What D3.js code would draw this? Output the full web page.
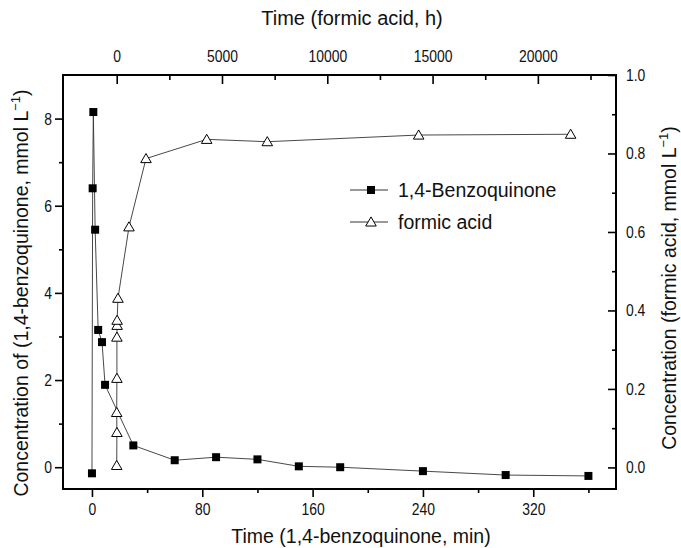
<!DOCTYPE html>
<html>
<head>
<meta charset="utf-8">
<script src="https://cdn.jsdelivr.net/npm/d3@7"></script>
<style>
  body { margin: 0; background: #fff; }
  svg { display: block; font-family: "Liberation Sans", Arial, sans-serif; }
</style>
</head>
<body>
<div id="chart"></div>
<script>
"use strict";

// 1,4-benzoquinone, bottom axis (min) / left axis
const bqTime = [0, 0.5, 1, 2.3, 4.5, 7.3, 9.5, 30, 60, 90, 120, 150, 180, 240, 300, 360];
const bqConc = [-0.14, 6.4, 8.15, 5.45, 3.15, 2.87, 1.89, 0.5, 0.16, 0.23, 0.18, 0.02, 0.0, -0.09, -0.18, -0.2];

// formic acid, top axis (h) / right axis
const faTime = [0, 10, 0, 10, 10, 20, 20, 60, 584, 1391, 4273, 7151, 14339, 21556];
const faConc = [0.005, 0.089, 0.14, 0.227, 0.332, 0.362, 0.375, 0.431, 0.613, 0.787, 0.836, 0.83, 0.847, 0.849];

const bottomTicks = [0, 80, 160, 240, 320];
const bottomMinor = [40, 120, 200, 280, 360];
const topTicks = [0, 5000, 10000, 15000, 20000];
const topMinor = [2500, 7500, 12500, 17500, 22500];
const leftTicks = [0, 2, 4, 6, 8];
const leftMinor = [1, 3, 5, 7];
const rightTicks = [0, 0.2, 0.4, 0.6, 0.8, 1.0];
const rightMinor = [0.1, 0.3, 0.5, 0.7, 0.9];

const legendItems = ["1,4-Benzoquinone", "formic acid"];

const width = 681;
const height = 548;
const plot = { left: 63, right: 616, top: 75, bottom: 489 };
const tickSize = 17;
const titleSize = 19.5;

const svg = d3.select("#chart").append("svg")
  .attr("width", width)
  .attr("height", height)
  .attr("viewBox", `0 0 ${width} ${height}`);

const xBottom = d3.scaleLinear().domain([-21, 380]).range([plot.left, plot.right]);
const xTop = d3.scaleLinear().domain([-2550, 23710]).range([plot.left, plot.right]);
const yLeft = d3.scaleLinear().domain([-0.5, 9]).range([plot.bottom, plot.top]);
const yRight = d3.scaleLinear().domain([-0.055, 1.0]).range([plot.bottom, plot.top]);

// tick numbers in the original are a condensed face: squeeze them a bit
function styleAxis(g) {
  g.select(".domain").remove();
  g.selectAll("line").attr("stroke", "#000").attr("stroke-width", 1.6);
  g.selectAll("text")
    .attr("fill", "#111")
    .attr("font-size", tickSize)
    .each(function () {
      const t = d3.select(this);
      const x = +t.attr("x") || 0;
      t.attr("x", x / 0.82).attr("transform", "scale(0.82,1)");
    });
}

// bottom axis (ticks outward)
svg.append("g")
  .attr("transform", `translate(0,${plot.bottom})`)
  .call(d3.axisBottom(xBottom).tickValues(bottomTicks).tickSize(8).tickPadding(6).tickFormat(d3.format("d")))
  .call(styleAxis);
svg.append("g")
  .attr("transform", `translate(0,${plot.bottom})`)
  .call(d3.axisBottom(xBottom).tickValues(bottomMinor).tickSize(4).tickFormat(""))
  .call(styleAxis);

// left axis (ticks outward)
svg.append("g")
  .attr("transform", `translate(${plot.left},0)`)
  .call(d3.axisLeft(yLeft).tickValues(leftTicks).tickSize(8).tickPadding(3).tickFormat(d3.format("d")))
  .call(styleAxis);
svg.append("g")
  .attr("transform", `translate(${plot.left},0)`)
  .call(d3.axisLeft(yLeft).tickValues(leftMinor).tickSize(4).tickFormat(""))
  .call(styleAxis);

// top axis (ticks inward)
svg.append("g")
  .attr("transform", `translate(0,${plot.top})`)
  .call(d3.axisTop(xTop).tickValues(topTicks).tickSizeInner(-9).tickSizeOuter(0).tickPadding(13).tickFormat(d3.format("d")))
  .call(styleAxis);
svg.append("g")
  .attr("transform", `translate(0,${plot.top})`)
  .call(d3.axisTop(xTop).tickValues(topMinor).tickSizeInner(-5).tickSizeOuter(0).tickFormat(""))
  .call(styleAxis);

// right axis (ticks inward)
svg.append("g")
  .attr("transform", `translate(${plot.right},0)`)
  .call(d3.axisRight(yRight).tickValues(rightTicks).tickSizeInner(-8).tickSizeOuter(0).tickPadding(10).tickFormat(d3.format(".1f")))
  .call(styleAxis);
svg.append("g")
  .attr("transform", `translate(${plot.right},0)`)
  .call(d3.axisRight(yRight).tickValues(rightMinor).tickSizeInner(-4).tickSizeOuter(0).tickFormat(""))
  .call(styleAxis);

// frame
svg.append("rect")
  .attr("x", plot.left)
  .attr("y", plot.top)
  .attr("width", plot.right - plot.left)
  .attr("height", plot.bottom - plot.top)
  .attr("fill", "none")
  .attr("stroke", "#000")
  .attr("stroke-width", 2);

// series
const bqData = bqTime.map((t, i) => ({ x: t, y: bqConc[i] }));
const faData = faTime.map((t, i) => ({ x: t, y: faConc[i] }));

const bqLine = d3.line().x((d) => xBottom(d.x)).y((d) => yLeft(d.y));
const faLine = d3.line().x((d) => xTop(d.x)).y((d) => yRight(d.y));

svg.append("path")
  .datum(bqData)
  .attr("d", bqLine)
  .attr("fill", "none")
  .attr("stroke", "#333")
  .attr("stroke-width", 0.9);

svg.append("path")
  .datum(faData)
  .attr("d", faLine)
  .attr("fill", "none")
  .attr("stroke", "#333")
  .attr("stroke-width", 0.9);

const square = d3.symbol().type(d3.symbolSquare).size(64);
const triangle = d3.symbol().type(d3.symbolTriangle).size(48);

svg.selectAll("path.bq")
  .data(bqData)
  .join("path")
  .attr("class", "bq")
  .attr("transform", (d) => `translate(${xBottom(d.x)},${yLeft(d.y)})`)
  .attr("d", square)
  .attr("fill", "#000");

svg.selectAll("path.fa")
  .data(faData)
  .join("path")
  .attr("class", "fa")
  .attr("transform", (d) => `translate(${xTop(d.x)},${yRight(d.y) + 1})`)
  .attr("d", triangle)
  .attr("fill", "#fff")
  .attr("stroke", "#000")
  .attr("stroke-width", 1);

// legend
const legend = svg.append("g").attr("transform", "translate(350,190)");
legendItems.forEach((label, i) => {
  const row = legend.append("g").attr("transform", `translate(0,${i * 32})`);
  row.append("line")
    .attr("x1", 0).attr("x2", 38)
    .attr("y1", 0).attr("y2", 0)
    .attr("stroke", "#333")
    .attr("stroke-width", 1);
  row.append("path")
    .attr("transform", `translate(21,${i === 0 ? 0 : 1})`)
    .attr("d", i === 0 ? square : triangle)
    .attr("fill", i === 0 ? "#000" : "#fff")
    .attr("stroke", "#000")
    .attr("stroke-width", i === 0 ? 0 : 1);
  row.append("text")
    .attr("x", 48)
    .attr("y", 7)
    .attr("font-size", titleSize)
    .attr("fill", "#111")
    .text(label);
});

// axis titles
svg.append("text")
  .attr("x", 361)
  .attr("y", 543)
  .attr("text-anchor", "middle")
  .attr("font-size", titleSize)
  .attr("fill", "#111")
  .text("Time (1,4-benzoquinone, min)");

svg.append("text")
  .attr("x", 352)
  .attr("y", 25)
  .attr("text-anchor", "middle")
  .attr("font-size", 20)
  .attr("fill", "#111")
  .text("Time (formic acid, h)");

function rotatedTitle(x, y, text) {
  const t = svg.append("text")
    .attr("transform", `translate(${x},${y}) rotate(-90)`)
    .attr("text-anchor", "middle")
    .attr("font-size", titleSize)
    .attr("fill", "#111");
  t.append("tspan").text(text);
  t.append("tspan").attr("font-size", 13).attr("dy", -8).text("\u22121");
  t.append("tspan").attr("dy", 8).text(")");
}

rotatedTitle(28, 293, "Concentration of (1,4-benzoquinone, mmol L");
rotatedTitle(676, 288, "Concentration (formic acid, mmol L");
</script>
</body>
</html>
